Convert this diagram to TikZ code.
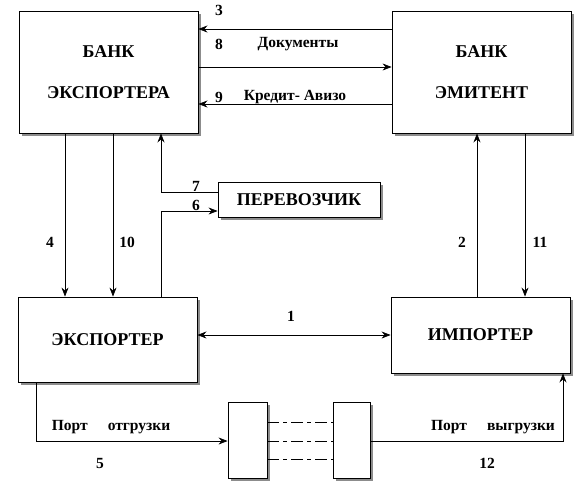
\documentclass[tikz,border=0pt]{standalone}
\usepackage{fontspec}
\setmainfont{Liberation Serif}
\usetikzlibrary{arrows.meta,shadows}
\begin{document}
\begin{tikzpicture}[x=1pt,y=-1pt,
  box/.style={draw,line width=0.9pt,fill=white,inner sep=0pt,
    general shadow={fill=black!45,shadow xshift=3pt,shadow yshift=-3pt},
    font=\fontsize{18}{21}\selectfont\bfseries,align=center},
  arr/.style={line width=0.7pt,-{Stealth[length=9pt,width=7pt,inset=3pt]}},
  lab/.style={font=\fontsize{15.5}{18}\selectfont\bfseries,inner sep=0pt},
  dd/.style={line width=0.7pt,dash pattern=on 12pt off 4pt on 4pt off 4pt}]
\useasboundingbox (0,0) rectangle (585,493);
\node[box,minimum width=179pt,minimum height=122pt] (BE) at (108.5,72) {БАНК\\[20pt]ЭКСПОРТЕРА};
\node[box,minimum width=179pt,minimum height=122pt] (BM) at (481.5,72) {БАНК\\[20pt]ЭМИТЕНТ};
\node[box,minimum width=179pt,minimum height=85pt] (EX) at (107.5,339.5) {ЭКСПОРТЕР};
\node[box,minimum width=179pt,minimum height=76pt] (IM) at (480.5,335) {ИМПОРТЕР};
\node[box,minimum width=162pt,minimum height=35pt] (PER) at (299,199.5) {ПЕРЕВОЗЧИК};
\node[box,minimum width=39pt,minimum height=76pt] (S1) at (247.5,440) {};
\node[box,minimum width=37pt,minimum height=76pt] (S2) at (351.5,440) {};
% top arrows
\draw[arr] (BM.west |- 0,29) -- (BE.east |- 0,29);
\draw[arr] (BE.east |- 0,67) -- (BM.west |- 0,67);
\draw[arr] (BM.west |- 0,104) -- (BE.east |- 0,104);
\node[lab] (l3) at (219,10) {3};
\node[lab] (l8) at (219,44) {8};
\node[lab] (ld) at (298,44) {Документы};
\node[lab] (l9) at (219,97) {9};
\node[lab] (lk) at (295,97) {Кредит- Авизо};
% bank exporter to exporter
\draw[arr] (BE.south -| 65,0) -- (EX.north -| 65,0);
\draw[arr] (BE.south -| 113,0) -- (EX.north -| 113,0);
\node[lab] (l4) at (50,242) {4};
\node[lab] (l10) at (127,242) {10};
% carrier
\coordinate (c7) at (161,192);
\coordinate (c6) at (161,211);
\draw[arr] (PER.west |- c7) -- (c7) -- (BE.south -| c7);
\draw[arr] (EX.north -| c6) -- (c6) -- (PER.west |- c6);
\node[lab] (l7) at (196,186) {7};
\node[lab] (l6) at (196,205) {6};
% emitent to importer
\draw[arr] (IM.north -| 477,0) -- (BM.south -| 477,0);
\draw[arr] (BM.south -| 525,0) -- (IM.north -| 525,0);
\node[lab] (l2) at (462,242) {2};
\node[lab] (l11) at (540,242) {11};
% exporter - importer
\draw[line width=0.7pt,{Stealth[length=9pt,width=7pt,inset=3pt]}-{Stealth[length=9pt,width=7pt,inset=3pt]}] (EX.east |- 0,335) -- (IM.west |- 0,335);
\node[lab] (l1) at (291,316) {1};
% shipping
\coordinate (c5) at (36,441);
\coordinate (c12) at (563,441);
\draw[arr] (EX.south -| c5) -- (c5) -- (S1.west |- c5);
\draw[arr] (S2.east |- c12) -- (c12) -- (IM.south -| c12);
\draw[dd] (S1.east |- 0,422) -- (S2.west |- 0,422);
\draw[dd] (S1.east |- 0,441) -- (S2.west |- 0,441);
\draw[dd] (S1.east |- 0,459) -- (S2.west |- 0,459);
\node[lab] (lpo) at (111,427) {Порт\hspace{1.3em}отгрузки};
\node[lab] (lpv) at (493,427) {Порт\hspace{1.3em}выгрузки};
\node[lab] (l5) at (100,463) {5};
\node[lab] (l12) at (487,463) {12};
\end{tikzpicture}
\end{document}
